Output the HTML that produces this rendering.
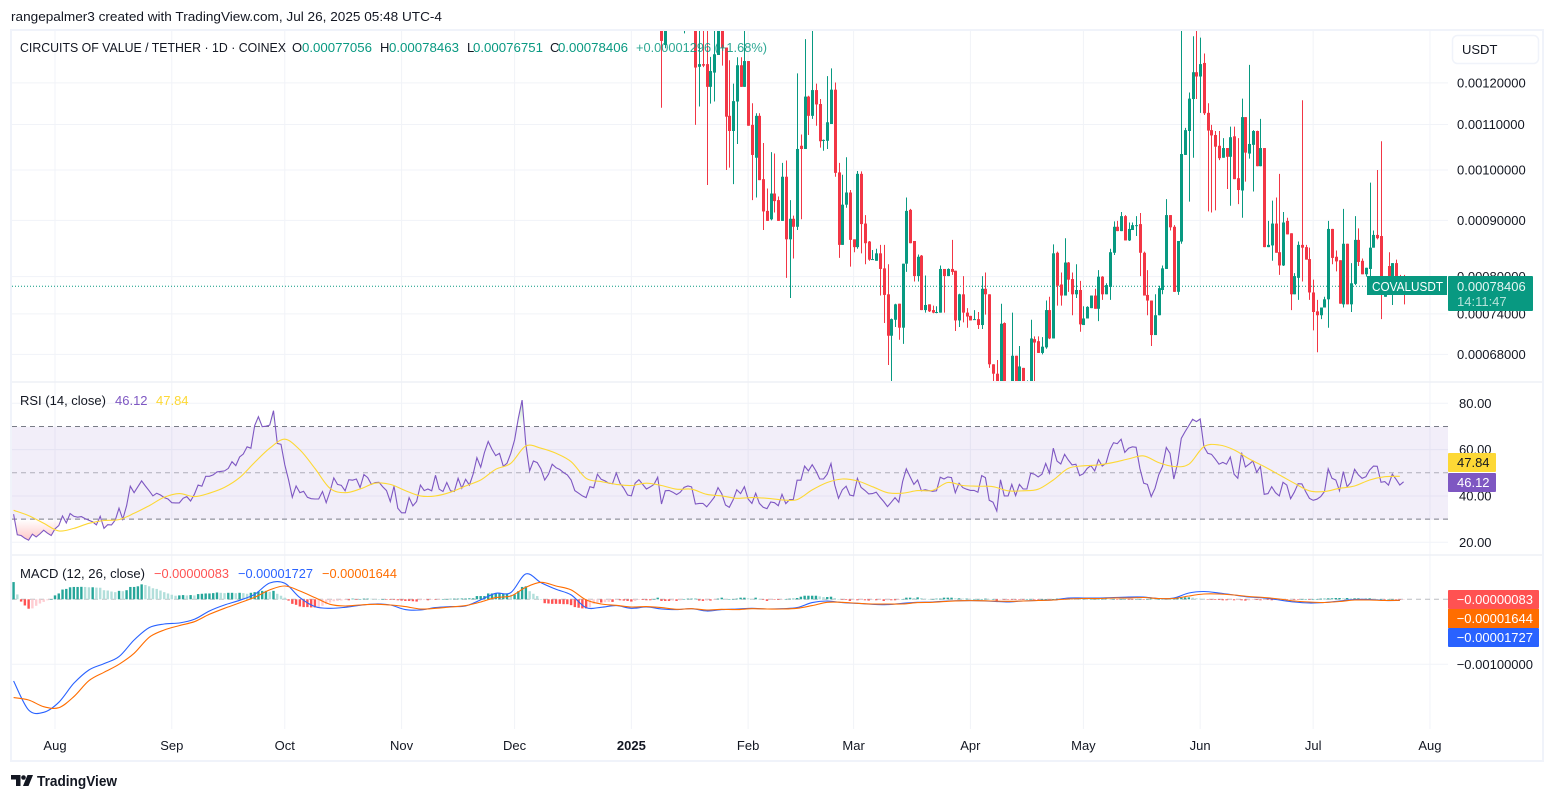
<!DOCTYPE html>
<html lang="en">
<head>
<meta charset="utf-8">
<title>COVALUSDT chart</title>
<style>
html,body{margin:0;padding:0;background:#fff;}
#chart{display:block;width:1554px;height:800px;font-family:"Liberation Sans",sans-serif;}
text{font-family:"Liberation Sans",sans-serif;}
</style>
</head>
<body>
<svg id="chart" xmlns="http://www.w3.org/2000/svg" width="1554" height="800" viewBox="0 0 1554 800">
  <defs>
    <clipPath id="price-clip"><rect x="12" y="31" width="1436" height="350"/></clipPath>
    <clipPath id="rsi-low-clip"><rect x="12" y="519.6" width="1436" height="35"/></clipPath>
    <clipPath id="rsi-high-clip"><rect x="12" y="383" width="1436" height="43.7"/></clipPath>
    <linearGradient id="rsi-low-grad" gradientUnits="userSpaceOnUse" x1="0" y1="519.6" x2="0" y2="542"><stop offset="0" stop-color="#ff5252" stop-opacity="0"/><stop offset="1" stop-color="#ff5252" stop-opacity="0.35"/></linearGradient>
    <linearGradient id="rsi-high-grad" gradientUnits="userSpaceOnUse" x1="0" y1="403" x2="0" y2="426.7"><stop offset="0" stop-color="#4caf50" stop-opacity="0.3"/><stop offset="1" stop-color="#4caf50" stop-opacity="0"/></linearGradient>
  </defs>
  <rect x="0" y="0" width="1554" height="800" fill="#ffffff"/>
  <text x="11" y="21" font-size="13" fill="#131722" textLength="431" lengthAdjust="spacingAndGlyphs">rangepalmer3 created with TradingView.com, Jul 26, 2025 05:48 UTC-4</text>
  <g id="grid"></g>
  <rect x="12" y="426.7" width="1436" height="92.9" fill="#7e57c2" fill-opacity="0.1"/>
  <g id="bands"></g>
  <line id="lastLine" x1="12" x2="1367" stroke="#089981" stroke-width="1" stroke-dasharray="1 2"/>
  <g id="candles" clip-path="url(#price-clip)"></g>
  <path id="rsiLowFill" fill="url(#rsi-low-grad)" clip-path="url(#rsi-low-clip)"/>
  <path id="rsiHighFill" fill="url(#rsi-high-grad)" clip-path="url(#rsi-high-clip)"/>
  <polyline id="rsiLine" fill="none" stroke="#7e57c2" stroke-width="1.1"/>
  <path id="rsiMaLine" fill="none" stroke="#fdd835" stroke-width="1.1"/>
  <g id="hist"></g>
  <path id="macdLine" fill="none" stroke="#2962ff" stroke-width="1.1"/>
  <path id="signalLine" fill="none" stroke="#ff6d00" stroke-width="1.1"/>
  <g id="frame">
    <rect x="11" y="30" width="1532" height="731" fill="none" stroke="#f0f3fa" stroke-width="2"/>
    <line x1="12" x2="1542" y1="382" y2="382" stroke="#eef0f5" stroke-width="1.5"/>
    <line x1="12" x2="1542" y1="555" y2="555" stroke="#eef0f5" stroke-width="1.5"/>
  </g>
  <g font-size="13">
    <text x="20" y="52" fill="#131722" textLength="266" lengthAdjust="spacingAndGlyphs">CIRCUITS OF VALUE / TETHER · 1D · COINEX</text>
    <text x="292" y="52" fill="#131722">O</text>
    <text x="302" y="52" fill="#089981" textLength="70" lengthAdjust="spacingAndGlyphs">0.00077056</text>
    <text x="380" y="52" fill="#131722">H</text>
    <text x="389" y="52" fill="#089981" textLength="70" lengthAdjust="spacingAndGlyphs">0.00078463</text>
    <text x="467" y="52" fill="#131722">L</text>
    <text x="473" y="52" fill="#089981" textLength="70" lengthAdjust="spacingAndGlyphs">0.00076751</text>
    <text x="550" y="52" fill="#131722">C</text>
    <text x="558" y="52" fill="#089981" textLength="70" lengthAdjust="spacingAndGlyphs">0.00078406</text>
    <text x="636" y="52" fill="#089981" fill-opacity="0.85" textLength="131" lengthAdjust="spacingAndGlyphs">+0.00001296 (+1.68%)</text>
  </g>
  <g font-size="13">
    <text x="20" y="405" fill="#131722">RSI (14, close)</text>
    <text x="115" y="405" fill="#7e57c2">46.12</text>
    <text x="156" y="405" fill="#fdd835">47.84</text>
  </g>
  <g font-size="13">
    <text x="20" y="578" fill="#131722" textLength="125" lengthAdjust="spacingAndGlyphs">MACD (12, 26, close)</text>
    <text x="154" y="578" fill="#ff5252" textLength="75" lengthAdjust="spacingAndGlyphs">−0.00000083</text>
    <text x="238" y="578" fill="#2962ff" textLength="75" lengthAdjust="spacingAndGlyphs">−0.00001727</text>
    <text x="322" y="578" fill="#ff6d00" textLength="75" lengthAdjust="spacingAndGlyphs">−0.00001644</text>
  </g>
  <g>
    <rect x="1452.5" y="35.5" width="86" height="28" rx="5" fill="#ffffff" stroke="#f0f3fa" stroke-width="1.5"/>
    <text x="1462" y="54" font-size="13" fill="#131722">USDT</text>
  </g>
  <g id="axisLabels" font-size="13" fill="#131722"></g>
  <g>
    <rect x="1367" y="276" width="80" height="19" fill="#089981"/>
    <text x="1372" y="291" font-size="13" fill="#ffffff" textLength="71" lengthAdjust="spacingAndGlyphs">COVALUSDT</text>
    <rect x="1448" y="276" width="85" height="35" rx="1" fill="#089981"/>
    <text x="1457" y="291" font-size="13" fill="#e6f6f3">0.00078406</text>
    <text x="1457" y="306" font-size="13" fill="#b5e3da">14:11:47</text>
  </g>
  <g font-size="13">
    <rect x="1448" y="453" width="48" height="19" rx="1" fill="#fdd835"/>
    <text x="1457" y="467" fill="#131722">47.84</text>
    <rect x="1448" y="473" width="48" height="19" rx="1" fill="#7e57c2"/>
    <text x="1457" y="487" fill="#ffffff">46.12</text>
  </g>
  <g font-size="13" fill="#ffffff">
    <rect x="1448" y="590" width="91" height="19" rx="1" fill="#ff5252"/>
    <text x="1533" y="604" text-anchor="end">−0.00000083</text>
    <rect x="1448" y="609" width="91" height="19" fill="#ff6d00"/>
    <text x="1533" y="623" text-anchor="end">−0.00001644</text>
    <rect x="1448" y="628" width="91" height="19" rx="1" fill="#2962ff"/>
    <text x="1533" y="642" text-anchor="end">−0.00001727</text>
  </g>
  <g>
    <path d="M11 775h9.5v11h-4.5v-6.5h-5zM27.5 775h5.5l-4.5 11h-5.5z" fill="#131722"/>
    <circle cx="23.5" cy="777.5" r="2.3" fill="#131722"/>
    <text x="37" y="786" font-size="15" font-weight="700" fill="#131722" textLength="80" lengthAdjust="spacingAndGlyphs">TradingView</text>
  </g>
</svg>
<script>
// ---------- price data (candles for day 161..358 after 1 Aug 2024, unit = 1e-6 USDT) ----------
const priceUnit = 1e-6;
const firstCandleDay = 161;
const opens = [
1420,1299,1420,1390,1430,1410,1370,1450,1420,1400,
1241,1248,1248,1190,1226,1272,1370,1292,1120,1085,
1154,1245,1190,1256,1099,1026,1120,981,918,902,
952,939,899,986,865,903,888,1052,1045,1166,
1120,1182,1148,1063,1063,1101,1183,995,855,930,
954,865,851,992,894,861,829,827,840,814,
771,707,731,756,719,822,920,862,801,836,
746,755,746,742,742,813,801,813,810,730,
771,742,737,731,732,723,780,771,666,653,
640,726,630,630,678,630,661,625,632,702,
699,682,690,746,703,841,787,769,824,796,
771,778,723,733,749,769,748,800,771,783,
841,888,880,908,863,882,890,893,841,770,
761,708,738,778,813,910,888,775,861,1032,
1085,1160,1227,1216,1251,1127,1087,1076,1052,1026,
1047,1028,1073,983,958,1117,1035,1054,1085,1008,
1047,851,854,894,842,819,899,876,771,798,
855,851,830,774,744,738,750,763,884,834,
828,755,857,755,788,864,827,804,813,850,
873,871,767,818,780,823,800,795];
const highs = [
1460,1430,1450,1440,1470,1450,1400,1480,1460,1420,
1400,1400,1400,1267,1400,1400,1400,1292,1258,1198,
1266,1266,1400,1256,1150,1126,1126,1058,962,1038,
1035,946,1015,1020,939,909,1224,1077,1315,1168,
1400,1198,1160,1066,1217,1237,1201,1015,990,1027,
959,865,998,997,910,862,846,848,855,855,
821,733,756,756,822,944,922,862,838,837,
802,755,753,752,819,813,814,864,810,772,
801,749,737,746,743,801,807,771,666,672,
756,727,636,742,678,692,661,644,731,706,
706,705,761,767,856,843,807,867,825,807,
821,793,752,752,769,780,811,801,789,848,
898,899,916,910,896,896,908,914,843,811,
761,771,785,819,941,910,891,862,1400,1092,
1176,1323,1400,1319,1276,1150,1099,1085,1085,1069,
1047,1095,1095,1069,1161,1117,1246,1087,1086,1113,
1047,899,938,944,992,916,905,876,806,861,
1157,855,850,795,762,750,767,899,884,845,
828,922,857,823,908,885,831,815,974,881,
1000,1062,785,842,823,829,803,803];
const lows = [
1139,1290,1380,1375,1400,1380,1331,1370,1365,1099,
1142,1240,969,1149,1154,1272,1244,1000,1005,971,
1056,1190,1190,1097,939,944,979,882,899,900,
915,899,899,798,765,831,882,902,1045,1076,
1113,1097,1048,1041,1045,1101,986,832,855,924,
817,842,848,840,821,827,829,827,769,726,
665,642,720,701,695,808,858,792,792,746,
742,743,741,741,742,742,801,803,714,720,
727,719,730,731,717,717,739,661,640,630,
625,625,610,620,620,620,620,615,620,642,
682,680,688,702,703,753,753,769,775,738,
765,713,723,733,749,748,729,762,771,762,
837,880,880,863,862,882,871,801,769,738,
692,708,738,771,813,881,775,770,857,1032,
936,1026,1160,1127,1122,917,915,919,1021,1026,
961,928,981,931,905,976,1024,956,1008,1008,
851,851,827,841,803,818,874,746,771,762,
792,829,762,715,683,732,750,719,821,809,
756,750,755,743,786,818,804,800,800,850,
865,732,767,775,754,775,785,755];
const closes = [
1310,1400,1390,1430,1410,1440,1390,1420,1400,1239,
1248,1244,1190,1230,1274,1360,1292,1118,1085,1155,
1245,1190,1256,1097,1032,1120,979,917,899,952,
937,899,986,865,903,888,1045,1045,1166,1120,
1182,1147,1062,1065,1105,1183,994,855,930,954,
864,851,992,893,858,829,830,840,813,770,
707,732,755,719,822,918,858,801,834,746,
754,744,742,743,813,801,813,808,730,771,
742,736,730,732,723,780,771,666,653,640,
725,638,620,678,630,663,630,635,703,697,
682,691,746,703,840,785,769,824,795,771,
778,724,733,751,769,748,800,771,786,842,
888,880,908,863,884,891,891,841,769,761,
708,738,781,814,910,887,775,862,1034,1087,
1161,1227,1216,1248,1126,1086,1075,1050,1025,1047,
1028,1071,981,959,1117,1037,1056,1085,1008,1047,
851,855,894,841,819,896,874,771,801,855,
850,829,774,743,738,750,763,884,832,826,
756,857,755,789,864,825,804,815,850,873,
867,785,785,780,823,780,790,784];
const lastPrice = 784.06;
// ---------- RSI (daily values from day -11 to day 358) ----------
const firstIndicatorDay = -11;
const rsiValues = [
32.1,23.2,22.9,21.7,20.9,23.5,22.3,23.6,25.2,23.9,
22.9,25.8,27.2,31.4,28.3,32.4,31.2,30.8,31.1,30.2,
29.5,28.8,27.5,31.2,26,27.6,27.5,29.6,34.7,29.9,
35.8,44.2,41.4,44,46.5,44.3,42.2,40,41.2,40.4,
39.3,38.7,37.1,37,37,39,39.7,37.8,40.7,44.7,
44.2,48.5,48.5,49.1,50.4,50.6,50.8,51.9,54.8,53.1,
56.8,58.1,61.2,60.6,70.4,74.2,69.9,70.1,70.6,76.8,
62.7,62.3,53.4,46.9,39.4,44.3,41.4,42,39.4,38.8,
38.7,38.7,41.9,37.1,41.9,47.8,45,44.6,42.2,47,
46.8,47.3,43.6,49.2,47.9,45,45.8,45.9,44,42.3,
37.6,44.2,34.7,32.7,32.7,39.3,35.7,37.6,44.7,42.3,
43,42.2,48.9,42.9,41.9,45.8,42.2,41.9,47.6,43.3,
47.2,44.7,49.4,56.5,52.4,58.7,63.5,60.1,57.4,58.4,
52.8,54.1,58.4,64.2,73.5,
81.4,62,50.8,55.1,54.4,51.7,46.9,49.4,53.7,52.2,
51.4,50.1,49.1,46.9,42.3,41.2,40,39.3,44,43.5,
49.4,47.2,46.5,45.5,45.3,49.9,45.5,43.3,40.4,40,
45.5,47,45,43,43.9,45,48.1,36.5,42.2,42.4,
41.6,40.6,41.6,43.7,44.3,43.9,36.5,36.8,36.8,35.3,
37.3,39.4,43.6,40.9,36.1,35.1,38.3,42.7,41,44,
38.7,36.8,41.2,36.8,35.1,34.5,37.4,37.1,35.8,40.7,
36.7,38.4,38.4,46.8,46.8,52.9,50.8,53.5,50.8,47.3,
47.3,49.4,54,44.7,39,42.6,44.2,40.4,40,47.6,
43.7,42.4,40.9,41,41.6,39.4,37.6,35.4,37.3,39.3,
37.3,46.2,51.7,48.3,45,46.9,42.2,42.7,42.3,42,
42.2,48.1,47.3,48.2,47.9,41.4,45.5,43.6,42.9,42.4,
42.4,41.6,48.8,47.9,38.1,37.3,33.5,47,40,40,
45,40.1,45,
43,43,49.8,49.4,48.2,49.4,54,49.8,60.6,55.1,
53.8,58,55.5,53.4,53.7,48.8,49.6,51.9,53.1,50.8,
55.7,52.9,54.1,59.9,63,62.6,64.5,58.8,60.6,61.2,
61,51.9,45.5,45,39.7,43.3,49.1,52.7,60.9,58.4,
47.3,54.1,64.9,67.8,70.4,73.1,72.1,73.2,61.3,58.4,
58,56,53.7,54.5,53.7,56.8,49.4,47.6,58.7,52.5,
53.7,55.1,50.2,52.7,40.7,41,44,41.4,40,45.9,
44.7,38.8,41.6,45.3,45.2,41.9,39,38.1,38.6,39.7,
41.9,51.7,47.6,46.9,42.2,50.5,44,45.8,51.5,49.1,
47.6,48.3,51.2,52.9,52.8,45.9,46.2,44.7,49.4,47.2,
44.7,46.12];
// RSI moving average, MACD and signal are sampled every 4 days from day -11
const sampleEveryDays = 4;
const rsiMaValues = [
33.8,31.5,28.2,24.9,26,28.2,29.4,29.8,32.5,35.8,39.4,41,39.7,41.2,43.7,47.9,54.5,60.6,64.5,59.9,
51.9,43.3,41.4,43,45.5,45,42.3,40,40,41.6,44.3,46.9,51.5,54.1,
61.6,60.6,58.4,54.8,47.6,46.2,45,44.5,45.5,44.5,42.9,42.9,40.7,40,39,39.3,39,38.3,38.4,42.6,
45.8,47.3,46.5,44,41.4,41.2,42.3,42.4,45.8,44.5,44.2,44,42.2,
42.2,42.9,46.9,51.9,53,53.4,54.5,56,57.3,54.4,52.7,53.7,61.3,62,59.9,56,52.7,49.1,45.5,42.2,
41.9,43.3,44.3,46.9,48.3,48.5];
// ---------- MACD (unit = 1e-6) ----------
const macdValues = [
-1257,-1703,-1739,-1585,-1293,-1088,-990,-882,-626,-436,-380,-364,-308,-180,-87,-15,77,251,246,26,
-113,-139,-123,-92,-72,-87,-159,-164,-128,-113,-103,-10,92,103,
390,257,154,67,-128,-123,-97,-139,-118,-149,-159,-144,-180,-159,-149,-139,-149,-144,-128,-51,
-26,-51,-62,-77,-82,-62,-46,-41,-26,-21,-21,-31,-41,
-26,-18,-11,20,20,20,28,35,35,12,20,97,120,97,66,35,20,-11,-42,-57,-49,-26,-3,-3,-18,-17];
const signalValues = [
-1513,-1549,-1652,-1667,-1498,-1252,-1123,-1000,-831,-585,-472,-405,-344,-231,-139,-56,31,144,205,128,
26,-77,-103,-87,-77,-87,-113,-149,-139,-118,-97,-41,26,51,
185,262,205,144,-10,-72,-92,-118,-113,-128,-154,-144,-164,-154,-159,-144,-149,-149,-139,-97,
-46,-46,-62,-72,-72,-72,-51,-46,-31,-21,-21,-26,-31,
-26,-18,-11,5,12,12,20,20,28,12,12,51,82,82,66,43,28,5,-26,-42,-49,-34,-11,-11,-18,-16];
const histValues = [
265,75,-35,-95,-145,-140,-100,-65,-40,-15,
2,60,90,150,160,185,190,190,192,190,
185,185,180,178,140,135,120,110,130,125,
140,190,190,200,230,220,200,170,160,135,
110,90,70,55,60,65,60,65,60,80,
85,90,90,95,105,100,95,100,100,95,
100,95,85,100,110,120,130,130,115,130,
85,55,25,-20,-70,-85,-110,-120,-120,-125,
-125,-120,-100,-75,-50,-30,-25,-20,-10,-15,
10,-5,5,10,10,8,5,3,3,-3,
-3,-5,-15,-20,-25,-25,-30,-35,-15,-10,
-15,-5,-5,-3,5,5,8,10,10,12,
12,15,15,50,50,50,90,90,90,90,
90,90,70,75,125,190,200,125,85,50,
0,-60,-65,-70,-70,-70,-75,-75,-90,-120,
-130,-140,-140,-120,-70,-50,-50,-45,-40,-40,
-10,-15,-20,-25,-35,-25,-10,-10,-15,-15,
5,25,-25,-25,-25,-20,-25,-15,5,10,
10,10,-20,-25,-20,-20,-10,10,25,5,
5,5,10,25,25,15,5,25,5,-5,
-25,-5,-5,-10,-5,5,10,10,20,40,
55,55,55,55,45,35,35,40,20,5,
-5,-10,-25,-10,-15,-10,-15,-20,-10,-15,
-10,-25,-15,-15,-15,-10,5,25,25,20,
30,20,10,5,5,10,10,25,25,25,
15,15,10,10,5,5,5,5,10,5,
5,-20,-5,-5,-5,-5,-5,
-5,-5,5,5,-5,-5,5,5,-5,5,10,10,5,5,10,5,10,10,5,5,
5,5,10,10,5,5,-5,5,5,-5,-5,5,5,-5,5,10,5,5,5,5,
5,10,15,25,30,30,25,15,10,5,
-5,-5,-10,-10,-15,-15,-10,-15,-10,-15,-20,-15,-10,-10,-15,-10,-10,-15,-10,-5,
-5,-10,-5,-5,-5,5,5,-5,5,5,10,10,15,15,20,20,15,20,15,15,
15,10,10,15,10,5,5,-5,5,5,-5,-5,-1];
// ---------- axis labels ----------
const priceTicks = [0.0012,0.0011,0.001,0.0009,0.0008,0.00074,0.00068];
const priceTickLabels = ["0.00120000","0.00110000","0.00100000","0.00090000","0.00080000","0.00074000","0.00068000"];
const rsiTicks = [80,60,40,20];
const rsiTickLabels = ["80.00","60.00","40.00","20.00"];
const rsiBands = [70,50,30];
const macdTicks = [-0.001];
const macdTickLabels = ["−0.00100000"];
const monthDays = [0,31,61,92,122,153,184,212,243,273,304,334,365];
const monthLabels = ["Aug","Sep","Oct","Nov","Dec","2025","Feb","Mar","Apr","May","Jun","Jul","Aug"];

// ---------- axis functions ----------
function xDay(d){ return 55 + 3.767 * d; }
function yPrice(p){ return 170 - 478 * Math.log(p / 0.001); }
function yRsi(v){ return 403.3 + (80 - v) * 2.316; }
function yMacd(v){ return 599.3 - v * 65000; }

const NS = 'http://www.w3.org/2000/svg';
function mk(tag, attrs, parent){
  const el = document.createElementNS(NS, tag);
  for (const k in attrs) el.setAttribute(k, attrs[k]);
  parent.appendChild(el);
  return el;
}
const gridG = document.getElementById('grid');
const bandsG = document.getElementById('bands');
const labelsG = document.getElementById('axisLabels');
const candlesG = document.getElementById('candles');
const histG = document.getElementById('hist');
const GRID = '#f1f3f8';

// vertical grid and time labels
monthDays.forEach(function(d, i){
  const x = xDay(d);
  const line = mk('line', {x1:x, x2:x, y1:31, y2:729, stroke:GRID, 'stroke-width':1}, gridG);
  
  
  const bold = monthLabels[i] === '2025';
  const t = mk('text', {x:x, y:750, 'text-anchor':'middle', 'font-weight': bold ? 700 : 400}, labelsG);
  t.textContent = monthLabels[i];
  
  
});
// price axis
priceTicks.forEach(function(p, i){
  const y = yPrice(p);
  const line = mk('line', {x1:12, x2:1448, y1:y, y2:y, stroke:GRID, 'stroke-width':1}, gridG);
  
  
  const t = mk('text', {x:1457, y:y + 4.5}, labelsG);
  t.textContent = priceTickLabels[i];
  
  
});
// RSI axis
rsiTicks.forEach(function(v, i){
  const y = yRsi(v);
  const line = mk('line', {x1:12, x2:1448, y1:y, y2:y, stroke:GRID, 'stroke-width':1}, gridG);
  
  
  const t = mk('text', {x:1459, y:y + 4.5}, labelsG);
  t.textContent = rsiTickLabels[i];
  
  
});
// MACD axis
macdTicks.forEach(function(v, i){
  const y = yMacd(v);
  const line = mk('line', {x1:12, x2:1448, y1:y, y2:y, stroke:GRID, 'stroke-width':1}, gridG);
  
  
  const t = mk('text', {x:1533, y:y + 4.5, 'text-anchor':'end'}, labelsG);
  t.textContent = macdTickLabels[i];
  
  
});
// RSI band lines
rsiBands.forEach(function(v){
  const y = yRsi(v);
  const mid = v === 50;
  const line = mk('line', {x1:12, x2:1448, y1:y, y2:y, stroke:'#787b86', 'stroke-opacity': mid ? 0.55 : 1, 'stroke-width':1, 'stroke-dasharray':'5 4'}, bandsG);
  
  
});
const zeroLine = mk('line', {x1:12, x2:1448, y1:yMacd(0), y2:yMacd(0), stroke:'#787b86', 'stroke-opacity':0.5, 'stroke-width':1, 'stroke-dasharray':'5 4'}, bandsG);



// last price line
const lastLine = document.getElementById('lastLine');
lastLine.setAttribute('y1', yPrice(lastPrice * priceUnit));
lastLine.setAttribute('y2', yPrice(lastPrice * priceUnit));

// candles
opens.forEach(function(o, i){
  const c = closes[i];
  const x = Math.round(xDay(firstCandleDay + i));
  const color = c >= o ? '#089981' : '#f23645';
  const wick = mk('line', {x1:x + 0.5, x2:x + 0.5, y1:yPrice(highs[i] * priceUnit), y2:yPrice(lows[i] * priceUnit), stroke:color, 'stroke-width':1}, candlesG);
  
  
  const top = yPrice(Math.max(o, c) * priceUnit);
  const bottom = yPrice(Math.min(o, c) * priceUnit);
  const body = mk('rect', {x:x - 1, y:top, width:3, height:Math.max(1, bottom - top), fill:color}, candlesG);
  
  
});

// RSI series
function dayOf(k){ return firstIndicatorDay + k; }
const rsiPts = rsiValues.map(function(v, k){ return [xDay(dayOf(k)), yRsi(v)]; });
function ptsStr(pts){ return pts.map(function(p){ return p[0].toFixed(1) + ',' + p[1].toFixed(1); }).join(' '); }
document.getElementById('rsiLine').setAttribute('points', ptsStr(rsiPts));
function areaTo(yBase){
  return 'M' + rsiPts[0][0].toFixed(1) + ' ' + yBase + rsiPts.map(function(p){ return 'L' + p[0].toFixed(1) + ' ' + p[1].toFixed(1); }).join('') + 'L' + rsiPts[rsiPts.length - 1][0].toFixed(1) + ' ' + yBase + 'Z';
}
document.getElementById('rsiLowFill').setAttribute('d', areaTo(yRsi(30)));
document.getElementById('rsiHighFill').setAttribute('d', areaTo(yRsi(70)));
function sampledPts(values, yFn){
  return values.map(function(v, k){ return [xDay(firstIndicatorDay + k * sampleEveryDays), yFn(v)]; });
}
// smooth curve through the sampled readings
function smoothPath(pts){
  let d = 'M' + pts[0][0].toFixed(1) + ' ' + pts[0][1].toFixed(1);
  for (let i = 0; i < pts.length - 1; i++){
    const p0 = pts[Math.max(0, i - 1)];
    const p1 = pts[i];
    const p2 = pts[i + 1];
    const p3 = pts[Math.min(pts.length - 1, i + 2)];
    const c1x = p1[0] + (p2[0] - p0[0]) / 6;
    const c1y = p1[1] + (p2[1] - p0[1]) / 6;
    const c2x = p2[0] - (p3[0] - p1[0]) / 6;
    const c2y = p2[1] - (p3[1] - p1[1]) / 6;
    d += 'C' + c1x.toFixed(1) + ' ' + c1y.toFixed(1) + ' ' + c2x.toFixed(1) + ' ' + c2y.toFixed(1) + ' ' + p2[0].toFixed(1) + ' ' + p2[1].toFixed(1);
  }
  return d;
}
document.getElementById('rsiMaLine').setAttribute('d', smoothPath(sampledPts(rsiMaValues, yRsi)));

// MACD series
function yMacdU(v){ return yMacd(v * priceUnit); }
document.getElementById('macdLine').setAttribute('d', smoothPath(sampledPts(macdValues, yMacdU)));
document.getElementById('signalLine').setAttribute('d', smoothPath(sampledPts(signalValues, yMacdU)));
histValues.forEach(function(v, k){
  const prev = k > 0 ? histValues[k - 1] : v;
  let color;
  if (v >= 0) color = v >= prev ? '#26a69a' : '#b2dfdb';
  else color = v <= prev ? '#ff5252' : '#ffcdd2';
  const y0 = yMacdU(0);
  const y1 = yMacdU(v);
  const bar = mk('rect', {x:xDay(dayOf(k)) - 1.2, y:Math.min(y0, y1), width:2.4, height:Math.max(0.5, Math.abs(y1 - y0)), fill:color}, histG);
  
  
});
</script>
</body>
</html>
